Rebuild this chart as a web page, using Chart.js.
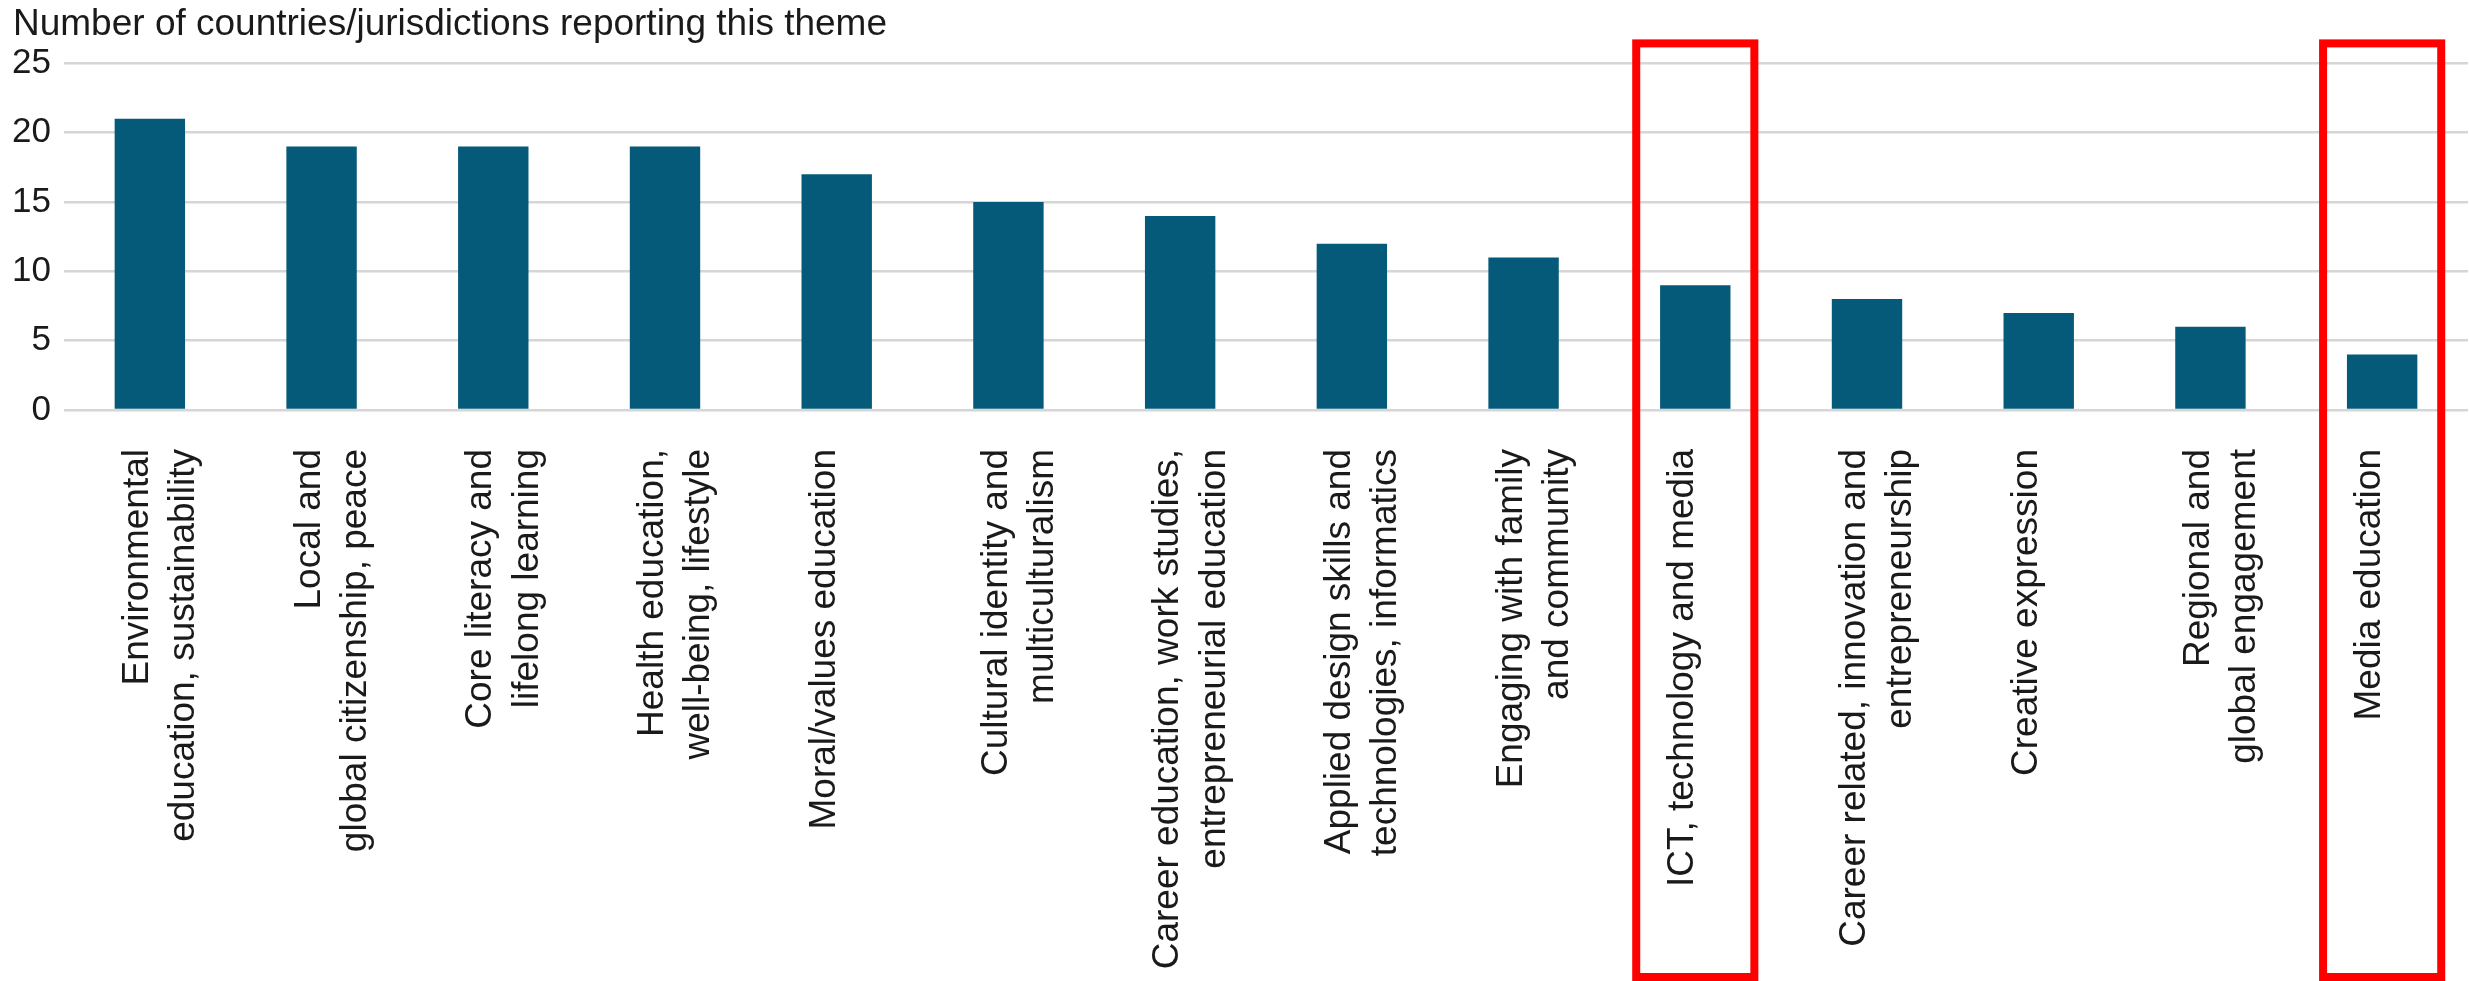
<!DOCTYPE html>
<html>
<head>
<meta charset="utf-8">
<title>Themes reported</title>
<script src="https://cdn.jsdelivr.net/npm/chart.js@4/dist/chart.umd.min.js"></script>
<style>
  html, body { margin: 0; padding: 0; background: #fff; }
  #chart { display: block; }
</style>
</head>
<body>
<canvas id="chart" width="2469" height="981"></canvas>
<script>
// data
const themes = [
    ['Environmental', 'education, sustainability'],
    ['Local and', 'global citizenship, peace'],
    ['Core literacy and', 'lifelong learning'],
    ['Health education,', 'well-being, lifestyle'],
    'Moral/values education',
    ['Cultural identity and', 'multiculturalism'],
    ['Career education, work studies,', 'entrepreneurial education'],
    ['Applied design skills and', 'technologies, informatics'],
    ['Engaging with family', 'and community'],
    'ICT, technology and media',
    ['Career related, innovation and', 'entrepreneurship'],
    'Creative expression',
    ['Regional and', 'global engagement'],
    'Media education'
];
const countries = [21, 19, 19, 19, 17, 15, 14, 12, 11, 9, 8, 7, 6, 4];
const yTicks = [0, 5, 10, 15, 20, 25];
const highlighted = ['ICT, technology and media', 'Media education'];
const axisTitle = 'Number of countries/jurisdictions reporting this theme';

const FONT = '"Liberation Sans", Arial, Helvetica, sans-serif';
const TEXT = '#1a1a1a';

// red boxes around the highlighted themes
const highlightBoxes = {
    id: 'highlightBoxes',
    afterDraw(chart) {
        const ctx = chart.ctx;
        const x = chart.scales.x;
        const step = x.getPixelForValue(1) - x.getPixelForValue(0);
        const half = step * 0.344;
        const top = chart.chartArea.top - 20;
        const bottom = chart.height - 4;
        ctx.save();
        ctx.strokeStyle = '#ff0000';
        ctx.lineWidth = 8;
        themes.forEach((t, i) => {
            if (!highlighted.includes(t)) return;
            const cx = x.getPixelForValue(i);
            ctx.strokeRect(cx - half, top, half * 2, bottom - top);
        });
        ctx.restore();
    }
};

new Chart(document.getElementById('chart'), {
    type: 'bar',
    data: {
        labels: themes,
        datasets: [{
            data: countries,
            backgroundColor: '#055a7a',
            borderWidth: 0,
            categoryPercentage: 1,
            barPercentage: 0.41
        }]
    },
    options: {
        responsive: false,
        animation: false,
        devicePixelRatio: 1,
        layout: { padding: { left: 13, right: 1, top: 0, bottom: 0 } },
        plugins: {
            legend: { display: false },
            tooltip: { enabled: false },
            title: {
                display: true,
                text: axisTitle,
                align: 'start',
                color: TEXT,
                font: { family: FONT, size: 37, weight: 'normal', lineHeight: 1.2 },
                padding: { top: 3, bottom: 16 }
            }
        },
        scales: {
            x: {
                grid: { display: false, drawTicks: false },
                border: { display: false },
                ticks: {
                    autoSkip: false,
                    minRotation: 90,
                    maxRotation: 90,
                    padding: 39,
                    labelOffset: -12,
                    color: TEXT,
                    font: { family: FONT, size: 37, lineHeight: 1.25 }
                },
                afterFit(axis) { axis.height = 571; }
            },
            y: {
                min: 0,
                max: 25,
                afterBuildTicks(axis) { axis.ticks = yTicks.map(v => ({ value: v })); },
                grid: { color: '#d6d6d6', lineWidth: 2.5, drawTicks: false },
                border: { display: false },
                ticks: {
                    padding: 13,
                    color: TEXT,
                    font: { family: FONT, size: 35 }
                },
                afterFit(axis) { axis.width = 51; }
            }
        }
    },
    plugins: [highlightBoxes]
});
</script>
</body>
</html>
